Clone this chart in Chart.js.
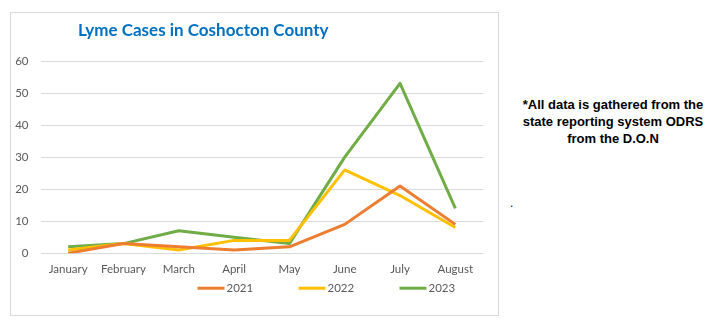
<!DOCTYPE html>
<html>
<head>
<meta charset="utf-8">
<script src="https://cdn.jsdelivr.net/npm/chart.js@4.4.1/dist/chart.umd.min.js"></script>
<style>
  body { margin: 0; width: 716px; height: 327px; background: #fff; position: relative; overflow: hidden; }
  #frame { position: absolute; left: 10px; top: 12px; width: 489px; height: 304px; box-sizing: border-box; border: 1px solid #d9d9d9; }
  #chartBox { position: absolute; left: 10px; top: 12px; width: 489px; height: 304px; }
  #title { position: absolute; left: 78px; top: 19px; font: bold 17px Lato, sans-serif; color: #0070c0; white-space: nowrap; }
  #note { position: absolute; left: 508px; top: 96px; width: 210px; text-align: center; font: bold 13px "Liberation Sans", Arial, sans-serif; line-height: 17px; color: #000; }
  #dot { position: absolute; left: 510px; top: 196px; font: 12px "Liberation Sans", Arial, sans-serif; color: #000; }
</style>
</head>
<body>
<div id="frame"></div>
<div id="chartBox"><canvas id="lymeChart" width="489" height="304"></canvas></div>
<div id="title">Lyme Cases in Coshocton County</div>
<div id="note">*All data is gathered from the<br>state reporting system ODRS<br>from the D.O.N</div>
<div id="dot">.</div>
<script>
  const months = ['January', 'February', 'March', 'April', 'May', 'June', 'July', 'August'];
  const cases2021 = [0, 3, 2, 1, 2, 9, 21, 9];
  const cases2022 = [1, 3, 1, 4, 4, 26, 18, 8];
  const cases2023 = [2, 3, 7, 5, 3, 30, 53, 14];
  const yTicks = [0, 10, 20, 30, 40, 50, 60];

  const textColor = '#595959';
  const tickFont = { family: 'Lato', size: 11.5 };

  // legend drawn as short line swatches with wide spacing
  const lineLegend = {
    id: 'lineLegend',
    afterDraw(chart) {
      const ctx = chart.ctx;
      const area = chart.chartArea;
      const y = area.bottom + 35;
      let x = area.left + 157;
      ctx.save();
      ctx.font = '11.5px Lato, sans-serif';
      ctx.textBaseline = 'middle';
      chart.data.datasets.forEach(ds => {
        ctx.fillStyle = ds.borderColor;
        ctx.fillRect(x, y - 1.5, 27, 3);
        ctx.fillStyle = textColor;
        ctx.fillText(ds.label, x + 29, y);
        x += 101;
      });
      ctx.restore();
    }
  };

  const ctx = document.getElementById('lymeChart').getContext('2d');

  new Chart(ctx, {
    type: 'line',
    data: {
      labels: months,
      datasets: [
        { label: '2021', data: cases2021, borderColor: '#ed7d31', backgroundColor: '#ed7d31' },
        { label: '2022', data: cases2022, borderColor: '#ffc000', backgroundColor: '#ffc000' },
        { label: '2023', data: cases2023, borderColor: '#70ad47', backgroundColor: '#70ad47' },
      ],
    },
    options: {
      responsive: false,
      animation: false,
      elements: {
        line: { borderWidth: 3, tension: 0, borderJoinStyle: 'round' },
        point: { radius: 0 },
      },
      layout: { padding: { top: 49, right: 16, bottom: 31, left: 0 } },
      plugins: {
        legend: { display: false },
        title: { display: false },
        tooltip: { enabled: false },
      },
      scales: {
        x: {
          offset: true,
          grid: { display: false, drawTicks: false, tickLength: 0 },
          border: { display: false },
          ticks: { color: textColor, font: tickFont, padding: 9, maxRotation: 0, autoSkip: false },
        },
        y: {
          min: 0,
          max: 60,
          afterBuildTicks(scale) { scale.ticks = yTicks.map(v => ({ value: v })); },
          grid: { color: '#d9d9d9', lineWidth: 1, drawTicks: false },
          border: { display: false },
          ticks: { color: textColor, font: tickFont, padding: 12 },
          afterFit(scale) { scale.width = 30.5; },
        },
      },
    },
    plugins: [lineLegend],
  });
</script>
</body>
</html>
